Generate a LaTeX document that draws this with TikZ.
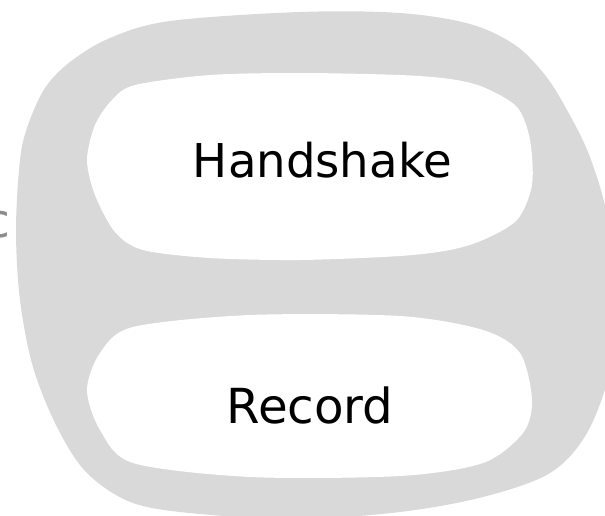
\documentclass[tikz,border=0pt]{standalone}
\usepackage{fontspec}
\setmainfont{DejaVu Sans}
\definecolor{shell}{RGB}{217,217,217}
\definecolor{faint}{RGB}{140,140,140}
\tikzset{
  shellfill/.style={fill=shell, draw=none},
  layerfill/.style={fill=white, draw=none},
  layerlabel/.style={anchor=base, inner sep=0pt, text=black},
}
\begin{document}
\begin{tikzpicture}[x=1pt, y=-1pt]
  \useasboundingbox (0,0) rectangle (605,516);
  \clip (0,0) rectangle (605,516);

  % outer protocol shell
  \fill[shellfill] plot[smooth cycle, tension=0.55] coordinates {
    (300,12) (400,13) (470,24) (515,45) (545,75) (567,110) (590,157)
    (608,220) (615,300) (610,370) (587,433) (550,473) (483,497)
    (400,512) (300,519) (200,514) (133,503) (87,473) (57,427)
    (33,367) (20,300) (16,230) (20,160) (28,125) (45,88) (70,62)
    (110,38) (170,21)};

  % upper layer
  \fill[layerfill] plot[smooth cycle, tension=0.5] coordinates {
    (210,75) (300,73) (400,75) (450,79) (483,87) (517,107) (530,140)
    (532,185) (517,220) (483,240) (450,250) (400,256) (300,260)
    (210,258) (143,250) (115,232) (95,195) (87,160) (95,125)
    (112,100) (135,85)};

  % lower layer
  \fill[layerfill] plot[smooth cycle, tension=0.5] coordinates {
    (250,315) (400,316) (483,330) (520,353) (532,400) (523,433)
    (483,463) (400,476) (250,477) (133,463) (100,430) (87,390)
    (100,353) (133,327)};

  \node[layerlabel, font=\fontsize{46.6}{50}\selectfont] (hs) at (322.5,177) {Handshake};
  \node[layerlabel, font=\fontsize{48.3}{52}\selectfont] (rec) at (310,423) {Record};
  \node[anchor=base east, inner sep=0pt, text=faint, font=\fontsize{47}{50}\selectfont] (side) at (11,237) {c};
\end{tikzpicture}
\end{document}
